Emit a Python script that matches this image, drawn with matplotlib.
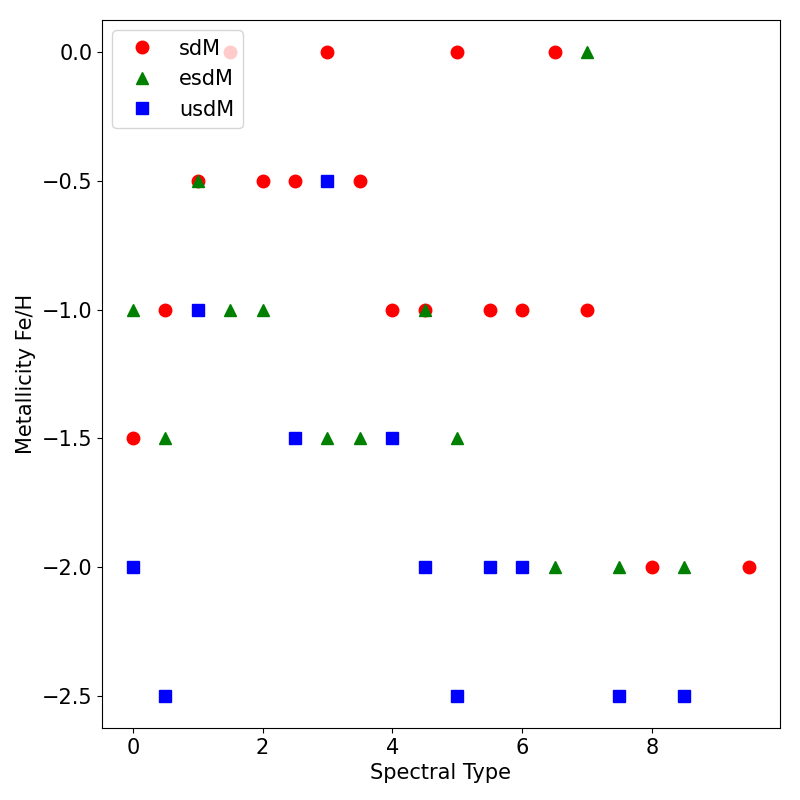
import matplotlib
matplotlib.use('Agg')
import matplotlib.pyplot as plt

# sdM
sdm_sp = [0, 0.5, 1, 1.5, 2, 2.5, 3, 3.5, 4, 4.5, 5, 5.5, 6, 6.5, 7, 8, 9.5]
sdm_feh = [-1.5, -1.0, -0.5, 0.0, -0.5, -0.5, 0.0, -0.5, -1.0, -1.0, 0.0, -1.0, -1.0, 0.0, -1.0, -2.0, -2.0]

# esdM
esdm_sp = [0, 0.5, 1, 1.5, 2, 3, 3.5, 4.5, 5, 6.5, 7, 7.5, 8.5]
esdm_feh = [-1.0, -1.5, -0.5, -1.0, -1.0, -1.5, -1.5, -1.0, -1.5, -2.0, 0.0, -2.0, -2.0]

# usdM
usdm_sp = [0, 0.5, 1, 2.5, 3, 4, 4.5, 5, 5.5, 6, 7.5, 8.5]
usdm_feh = [-2.0, -2.5, -1.0, -1.5, -0.5, -1.5, -2.0, -2.5, -2.0, -2.0, -2.5, -2.5]

plt.rcParams['font.size'] = 15

fig = plt.figure(figsize=(8, 8), dpi=100)
plt.plot(sdm_sp, sdm_feh, 'o', color='red', ms=9, label='sdM')
plt.plot(esdm_sp, esdm_feh, '^', color='green', ms=9, label='esdM')
plt.plot(usdm_sp, usdm_feh, 's', color='blue', ms=9, label='usdM')
plt.xlabel('Spectral Type')
plt.ylabel('Metallicity Fe/H')
plt.legend(loc='upper left')
plt.subplots_adjust(left=0.1275, right=0.975, top=0.975, bottom=0.09)
plt.savefig('out.png')
